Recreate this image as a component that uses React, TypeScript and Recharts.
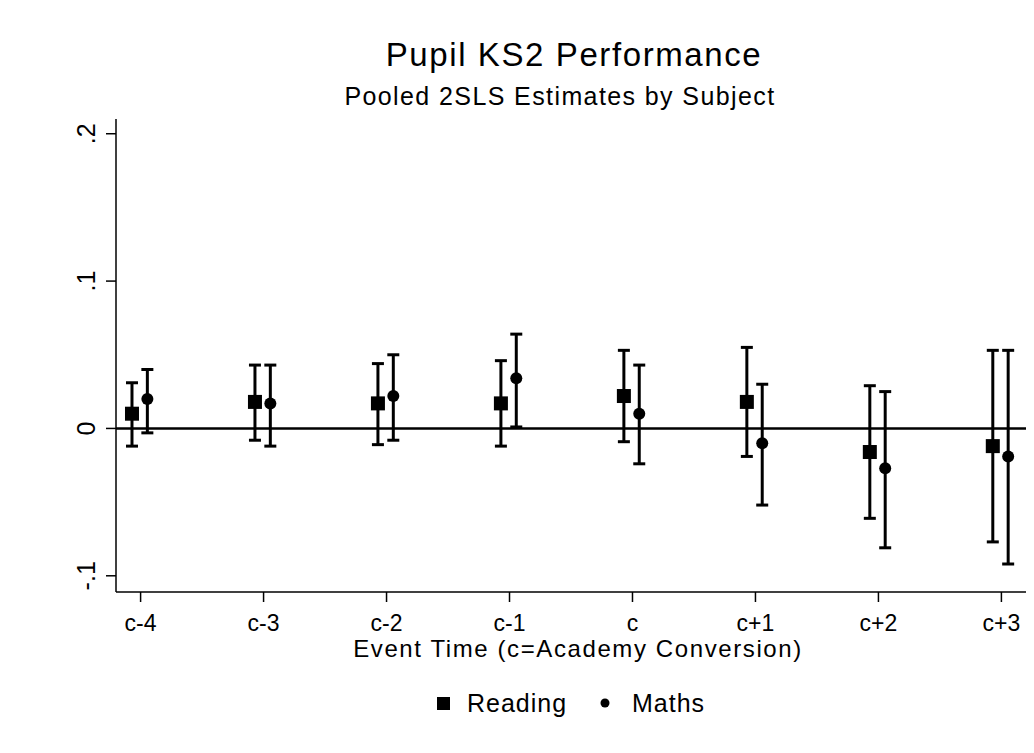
import { ComposedChart, Scatter, ErrorBar, XAxis, YAxis, ReferenceLine } from 'recharts';

const eventTime = [-4, -3, -2, -1, 0, 1, 2, 3];
const timeLabels = ['c-4', 'c-3', 'c-2', 'c-1', 'c', 'c+1', 'c+2', 'c+3'];

const readingEst = [0.010, 0.018, 0.017, 0.017, 0.022, 0.018, -0.016, -0.012];
const readingLo = [-0.012, -0.008, -0.011, -0.012, -0.009, -0.019, -0.061, -0.077];
const readingHi = [0.031, 0.043, 0.044, 0.046, 0.053, 0.055, 0.029, 0.053];

const mathsEst = [0.020, 0.017, 0.022, 0.034, 0.010, -0.010, -0.027, -0.019];
const mathsLo = [-0.003, -0.012, -0.008, 0.001, -0.024, -0.052, -0.081, -0.092];
const mathsHi = [0.040, 0.043, 0.050, 0.064, 0.043, 0.030, 0.025, 0.053];

const yTicks = [-0.1, 0, 0.1, 0.2];
const yTickLabels: Record<string, string> = { '-0.1': '-.1', '0': '0', '0.1': '.1', '0.2': '.2' };

// small horizontal dodge so the two subjects sit either side of the tick
const READING_SHIFT = -0.07;
const MATHS_SHIFT = 0.055;

const FONT = '"Liberation Sans", Arial, sans-serif';

function buildSeries(est: number[], lo: number[], hi: number[], shift: number) {
  return eventTime.map((t, i) => ({
    x: t + shift,
    y: est[i],
    err: [est[i] - lo[i], hi[i] - est[i]],
  }));
}

const readingData = buildSeries(readingEst, readingLo, readingHi, READING_SHIFT);
const mathsData = buildSeries(mathsEst, mathsLo, mathsHi, MATHS_SHIFT);

const SquareDot = (props: any) => {
  const { cx, cy } = props;
  return <rect x={cx - 7} y={cy - 7} width={14} height={14} fill="#000" />;
};

const CircleDot = (props: any) => {
  const { cx, cy } = props;
  return <circle cx={cx} cy={cy} r={6} fill="#000" />;
};

const XTick = (props: any) => {
  const { x, y, payload } = props;
  const idx = eventTime.indexOf(payload.value);
  return (
    <text x={x} y={y + 27} textAnchor="middle" fontSize={23} fontFamily={FONT} fill="#000">
      {timeLabels[idx]}
    </text>
  );
};

const YTick = (props: any) => {
  const { x, y, payload } = props;
  const key = String(Math.round(payload.value * 10) / 10);
  return (
    <text
      transform={`translate(${x - 9},${y}) rotate(-90)`}
      textAnchor="middle"
      fontSize={25}
      fontFamily={FONT}
      fill="#000"
    >
      {yTickLabels[key]}
    </text>
  );
};

export default function App() {
  return (
    <div style={{ position: 'relative', width: 1034, height: 753, background: '#fff' }}>
      <style>{`body{margin:0}`}</style>
      <ComposedChart width={1034} height={753} margin={{ top: 119, right: 8, bottom: 101, left: 0 }}>
        <XAxis
          type="number"
          dataKey="x"
          domain={[-4.2, 3.2]}
          ticks={eventTime}
          allowDataOverflow
          height={60}
          tickSize={10}
          tick={<XTick />}
          axisLine={{ stroke: '#000', strokeWidth: 1.5 }}
          tickLine={{ stroke: '#000', strokeWidth: 1.5 }}
        />
        <YAxis
          type="number"
          dataKey="y"
          domain={[-0.111, 0.21]}
          ticks={yTicks}
          allowDataOverflow
          width={116}
          tickSize={10}
          tick={<YTick />}
          axisLine={{ stroke: '#000', strokeWidth: 1.5 }}
          tickLine={{ stroke: '#000', strokeWidth: 1.5 }}
        />
        <ReferenceLine y={0} stroke="#000" strokeWidth={2.5} />
        <Scatter name="Reading" data={readingData} shape={<SquareDot />} isAnimationActive={false}>
          <ErrorBar dataKey="err" direction="y" width={6} stroke="#000" strokeWidth={3} isAnimationActive={false} />
        </Scatter>
        <Scatter name="Maths" data={mathsData} shape={<CircleDot />} isAnimationActive={false}>
          <ErrorBar dataKey="err" direction="y" width={6} stroke="#000" strokeWidth={3} isAnimationActive={false} />
        </Scatter>
      </ComposedChart>
      <svg
        width={1034}
        height={753}
        style={{ position: 'absolute', left: 0, top: 0, pointerEvents: 'none' }}
        fontFamily={FONT}
      >
        <text x={574} y={66} textAnchor="middle" fontSize={33} letterSpacing={1.6} fill="#000">
          Pupil KS2 Performance
        </text>
        <text x={560} y={105} textAnchor="middle" fontSize={25} letterSpacing={1.4} fill="#000">
          Pooled 2SLS Estimates by Subject
        </text>
        <text x={578} y={657} textAnchor="middle" fontSize={24} letterSpacing={1.6} fill="#000">
          Event Time (c=Academy Conversion)
        </text>
        <rect x={437} y={697} width={13} height={13} fill="#000" />
        <text x={467} y={712} fontSize={25} letterSpacing={1} fill="#000">Reading</text>
        <circle cx={605} cy={703} r={4.5} fill="#000" />
        <text x={632} y={712} fontSize={25} letterSpacing={1} fill="#000">Maths</text>
      </svg>
    </div>
  );
}
